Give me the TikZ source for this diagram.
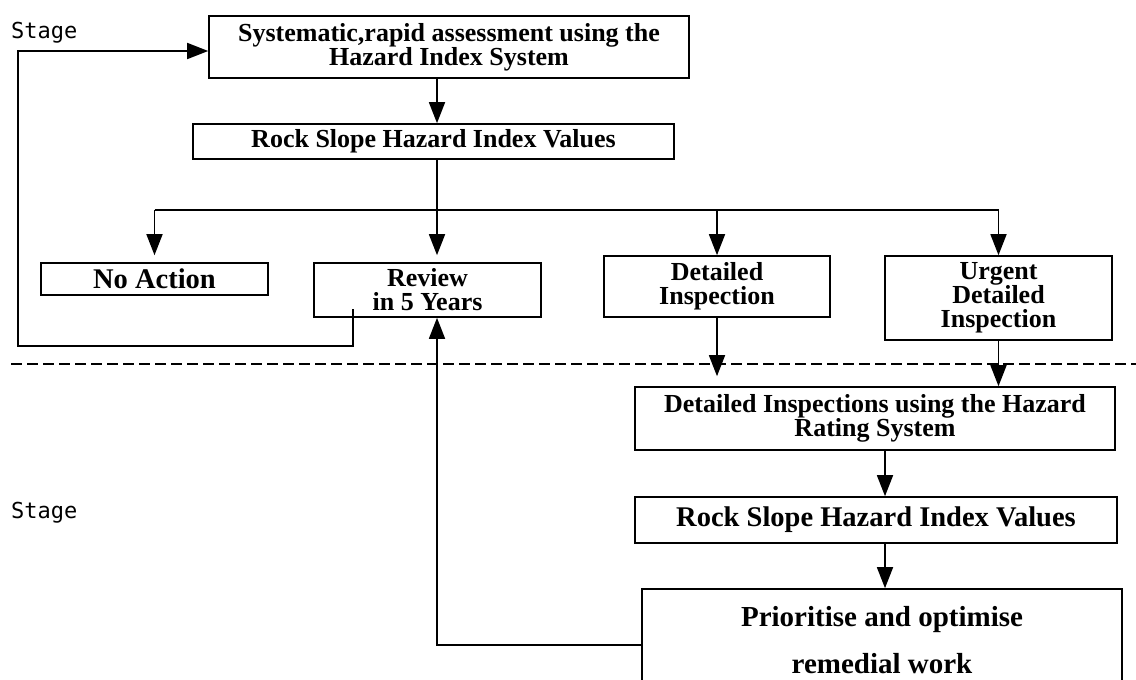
\documentclass[tikz,border=0pt]{standalone}
\usepackage{fontspec}
\setmainfont{Liberation Serif}
\newfontfamily\stagefont{DejaVu Sans Mono}
\usetikzlibrary{arrows.meta,positioning,calc}

\begin{document}
\begin{tikzpicture}[x=1pt,y=-1pt,
  stepbox/.style={draw,line width=1.6pt,inner sep=0pt,align=center,
    font=\bfseries\fontsize{26}{24}\selectfont},
  bigbox/.style={stepbox,font=\bfseries\fontsize{28.5}{28.5}\selectfont},
  arrow/.style={-{Triangle[width=16pt,length=21pt]},line width=1.6pt},
  wire/.style={line width=1.6pt},
  stagelbl/.style={anchor=west,inner sep=0pt,
    font=\stagefont\fontsize{22}{22}\selectfont}]

  \clip (0,0) rectangle (1136,680);

  \node[stagelbl] (stage1) at (11,33) {Stage};
  \node[stagelbl] (stage2) at (11,513) {Stage};

  \node[stepbox,minimum width=480pt,minimum height=62pt] (sys) at (449,47)
    {Systematic,rapid assessment using the\\Hazard Index System};
  \node[stepbox,minimum width=481pt,minimum height=35pt] (rshi) at (433.5,141.5)
    {Rock Slope Hazard Index Values};
  \node[bigbox,minimum width=227pt,minimum height=32pt] (noact) at (154.5,279)
    {No Action};
  \node[stepbox,minimum width=227pt,minimum height=54pt] (review) at (427.5,290)
    {Review\\in 5 Years};
  \node[stepbox,minimum width=226pt,minimum height=61pt] (detail) at (717,286.5)
    {Detailed\\Inspection};
  \node[stepbox,minimum width=227pt,minimum height=84pt] (urgent) at (998.5,298)
    {Urgent\\Detailed\\Inspection};
  \node[stepbox,minimum width=480pt,minimum height=63pt] (drs) at (875,418.5)
    {Detailed Inspections using the Hazard\\Rating System};
  \node[bigbox,minimum width=482pt,minimum height=46pt] (rshv) at (876,520)
    {Rock Slope Hazard Index Values};
  \node[bigbox,minimum width=480pt,minimum height=102pt,
    font=\bfseries\fontsize{29}{47}\selectfont] (prio) at (882,640)
    {Prioritise and optimise\\remedial work};

  \coordinate (spine) at (437,0);
  \coordinate (rcol) at (885,0);
  \coordinate (bus) at (0,210);

  \draw[arrow] (sys.south -| spine) -- (rshi.north -| spine);
  \draw[wire] (rshi.south -| spine) -- (spine |- bus);
  \draw[wire] (noact.north |- bus) -- (urgent.north |- bus);
  \draw[arrow,shorten >=7pt] (noact.north |- bus) -- (noact.north);
  \draw[arrow,shorten >=7pt] (spine |- bus) -- (review.north -| spine);
  \draw[arrow] (detail.north |- bus) -- (detail.north);
  \draw[arrow] (urgent.north |- bus) -- (urgent.north);
  \draw[arrow,shorten >=10pt] (detail.south) -- (detail.south |- drs.north);
  \draw[arrow] (urgent.south) -- (urgent.south |- drs.north);
  \draw[arrow] (drs.south -| rcol) -- (rshv.north -| rcol);
  \draw[arrow] (rshv.south -| rcol) -- (prio.north -| rcol);

  % back to stage one
  \coordinate (fbstart) at (353,309);
  \coordinate (fbleft) at (18,346);
  \coordinate (fbtop) at (18,51);
  \draw[arrow] (fbstart) |- (fbleft) -- (fbtop) -- (fbtop -| sys.west);
  \coordinate (backpt) at (0,645);
  \draw[arrow] (prio.west |- backpt) -| (review.south -| spine);

  % stage divider
  \coordinate (divl) at (11,364);
  \coordinate (divr) at (1136,364);
  \draw[line width=1.4pt,dash pattern=on 11pt off 5pt] (divl) -- (divr);
\end{tikzpicture}
\end{document}
